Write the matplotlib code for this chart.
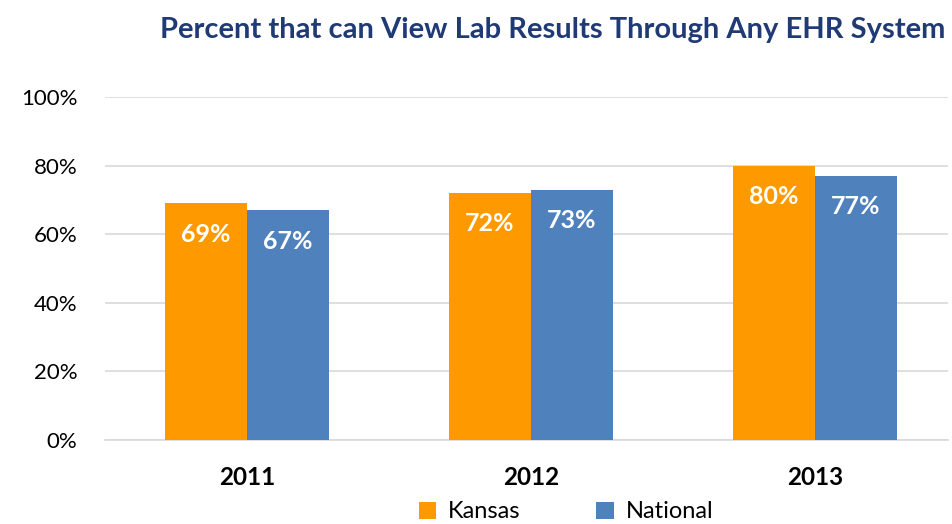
import matplotlib.pyplot as plt
import numpy as np

plt.rcParams['font.family'] = ['Lato', 'DejaVu Sans']

years = ['2011', '2012', '2013']
kansas = [69, 72, 80]
national = [67, 73, 77]

orange = '#FF9900'
blue = '#4F81BD'

fig = plt.figure(figsize=(9.53, 5.24), dpi=100)
ax = fig.add_axes([105 / 953, 84 / 524, 843 / 953, 343 / 524])

x = np.arange(len(years))
w = 0.289
b1 = ax.bar(x - w / 2, kansas, w, color=orange, label='Kansas', zorder=3)
b2 = ax.bar(x + w / 2, national, w, color=blue, label='National', zorder=3)

# value labels inside the bar tops
for bars, vals in ((b1, kansas), (b2, national)):
    for r, v in zip(bars, vals):
        ax.text(r.get_x() + r.get_width() / 2, v - 9, f'{v}%', ha='center', va='center',
                color='white', fontsize=18, fontweight='bold', zorder=4)

ax.set_xlim(-0.5, (948 - 247) / 284)
ax.set_ylim(0, 100)
ax.set_yticks(range(0, 101, 20))
ax.set_yticklabels([f'{t}%' for t in range(0, 101, 20)], fontsize=16)
ax.set_xticks(x)
ax.set_xticklabels(years, fontsize=17.5, fontweight='bold')
ax.tick_params(axis='y', length=0, pad=20)
ax.tick_params(axis='x', length=0, pad=19)
ax.yaxis.grid(True, color='#D9D9D9', linewidth=1.2, zorder=0)
for s in ['top', 'right', 'left']:
    ax.spines[s].set_visible(False)
ax.spines['bottom'].set_color('#D9D9D9')
ax.spines['bottom'].set_linewidth(1.2)

fig.text(945 / 953, 1 - 30 / 524, 'Percent that can View Lab Results Through Any EHR System',
         ha='right', va='center', fontsize=21, fontweight='bold', color='#1F3A75')

fig.legend(handles=[b1, b2], loc='center', bbox_to_anchor=(566 / 953, 12 / 524), ncol=2,
           frameon=False, fontsize=17, handlelength=0.75, handleheight=0.75,
           columnspacing=3.2, handletextpad=0.5, borderpad=0)

plt.savefig('out.png', dpi=100)
plt.close()
